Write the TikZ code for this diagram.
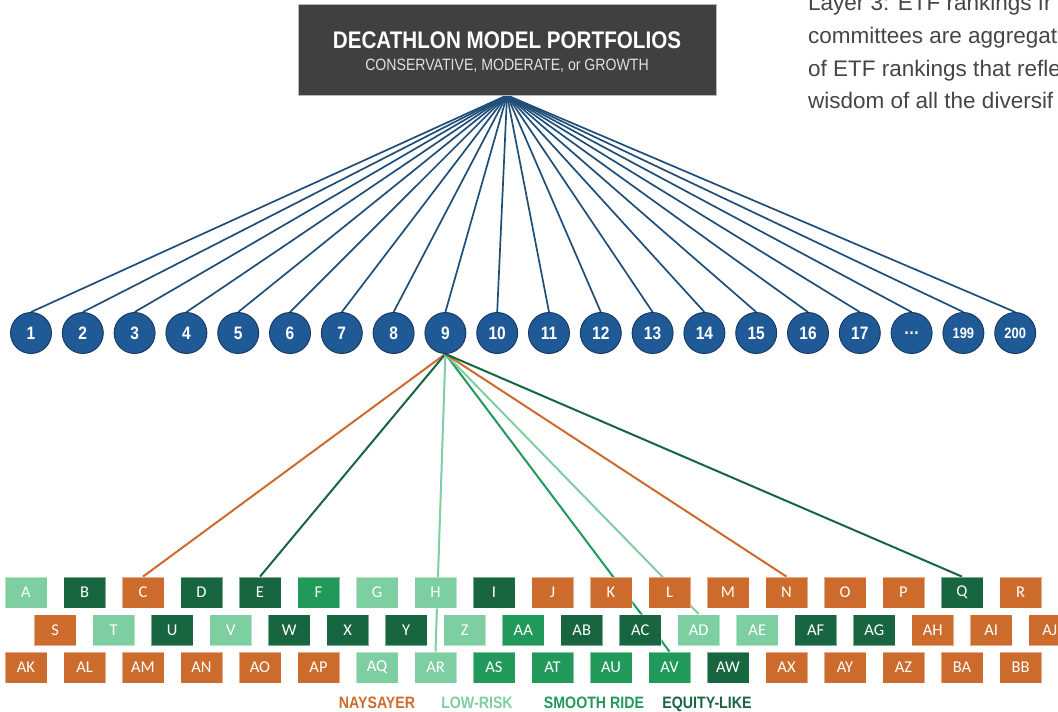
\documentclass[tikz,border=0pt]{standalone}
\usepackage{fontspec}
\setmainfont{Liberation Sans}
\newfontfamily\narrowfont[FakeStretch=0.86]{Liberation Sans}
\newfontfamily\boxfont{Carlito}
\usetikzlibrary{backgrounds}
\definecolor{ny}{HTML}{CD6B2D}
\definecolor{lr}{HTML}{7DCFA2}
\definecolor{sr}{HTML}{21995A}
\definecolor{eq}{HTML}{17663F}
\definecolor{navy}{HTML}{1F4E79}
\definecolor{cfill}{HTML}{1F5A96}
\definecolor{cedge}{HTML}{17375E}
\definecolor{topfill}{HTML}{404040}
\definecolor{sidetext}{HTML}{454545}
\tikzset{
  topbox/.style={fill=topfill, draw=gray!55, line width=0.6pt, minimum width=418pt, minimum height=91pt, inner sep=0pt},
  titletext/.style={text=white, font=\narrowfont\bfseries\fontsize{24}{28}\selectfont, inner sep=0pt},
  subtext/.style={text=white!88!black, font=\narrowfont\fontsize{16.4}{19}\selectfont, inner sep=0pt},
  sidetxt/.style={text=sidetext, font=\fontsize{22.5}{27}\selectfont, anchor=base west, inner sep=0pt},
  numcircle/.style={circle, fill=cfill, draw=cedge, line width=0.9pt, minimum size=41pt, inner sep=0pt, text=white, font=\narrowfont\bfseries\fontsize{18}{21}\selectfont},
  smallnum/.style={font=\narrowfont\bfseries\fontsize{15}{18}\selectfont},
  etfbox/.style={rectangle, draw=white, draw opacity=0.45, line width=0.8pt, minimum width=42pt, minimum height=31pt, inner sep=0pt, text=white, font=\boxfont\fontsize{16.5}{19}\selectfont},
  navyline/.style={draw=navy, line width=1.7pt},
  pickline/.style={line width=2pt},
  legend/.style={font=\narrowfont\bfseries\fontsize{16.5}{19}\selectfont, inner sep=0pt, anchor=base}
}
\begin{document}
\begin{tikzpicture}[x=1pt,y=-1pt]
\useasboundingbox (0,0) rectangle (1058,712);
\clip (0,0) rectangle (1058,712);

% top box
\node[topbox] (top) at (507,49.5) {};
\node[titletext] (title) at (507,40) {DECATHLON MODEL PORTFOLIOS};
\node[subtext] (subtitle) at (507,66) {CONSERVATIVE, MODERATE, or GROWTH};

% side text (cut by the frame, as in the source)
\node[sidetxt] (s1) at (808,10) {Layer 3: ETF rankings fr};
\node[sidetxt] (s2) at (808,43) {committees are aggregat};
\node[sidetxt] (s3) at (808,76) {of ETF rankings that refle};
\node[sidetxt] (s4) at (808,108.5) {wisdom of all the diversif};

% circles
\foreach \lab [count=\i] in {1,2,3,4,5,6,7,8,9,10,11,12,13,14,15,16,17,\ldots}
  \node[numcircle] (c\i) at ({31+(\i-1)*51.8},333) {\lab};
\node[numcircle, smallnum] (c19) at ({31+18*51.8},333) {199};
\node[numcircle, smallnum] (c20) at ({31+19*51.8},333) {200};

% ETF boxes
\foreach \lab/\col [count=\i] in {A/lr,B/eq,C/ny,D/eq,E/eq,F/sr,G/lr,H/lr,I/eq,J/ny,K/ny,L/ny,M/ny,N/ny,O/ny,P/ny,Q/eq,R/ny}
  \node[etfbox, fill=\col] (\lab) at ({26+(\i-1)*58.5},592.5) {\lab};
\foreach \lab/\col [count=\i] in {S/ny,T/lr,U/eq,V/lr,W/eq,X/eq,Y/eq,Z/lr,AA/sr,AB/eq,AC/eq,AD/lr,AE/lr,AF/eq,AG/eq,AH/ny,AI/ny,AJ/ny}
  \node[etfbox, fill=\col] (\lab) at ({55.25+(\i-1)*58.5},630) {\lab};
\foreach \lab/\col [count=\i] in {AK/ny,AL/ny,AM/ny,AN/ny,AO/ny,AP/ny,AQ/lr,AR/lr,AS/sr,AT/sr,AU/sr,AV/sr,AW/eq,AX/ny,AY/ny,AZ/ny,BA/ny,BB/ny}
  \node[etfbox, fill=\col] (\lab) at ({26+(\i-1)*58.5},667.5) {\lab};

% legend
\node[legend, text=ny] (lg1) at (377,708.5) {NAYSAYER};
\node[legend, text=lr] (lg2) at (477,708.5) {LOW-RISK};
\node[legend, text=sr] (lg3) at (594,708.5) {SMOOTH RIDE};
\node[legend, text=eq] (lg4) at (707,708.5) {EQUITY-LIKE};

% connectors (behind the nodes)
\begin{scope}[on background layer]
  \foreach \i in {1,...,20}
    \draw[navyline] (top.south) -- (c\i.north);
  \draw[pickline, draw=ny] (c9.south) -- (C.north);
  \draw[pickline, draw=eq] (c9.south) -- (E.north);
  \draw[pickline, draw=lr] (c9.south) -- (AR.north);
  \draw[pickline, draw=sr] (c9.south) -- (AV.north);
  \draw[pickline, draw=lr] (c9.south) -- (AD.north);
  \draw[pickline, draw=ny] (c9.south) -- (N.north);
  \draw[pickline, draw=eq] (c9.south) -- (Q.north);
\end{scope}
\end{tikzpicture}
\end{document}
